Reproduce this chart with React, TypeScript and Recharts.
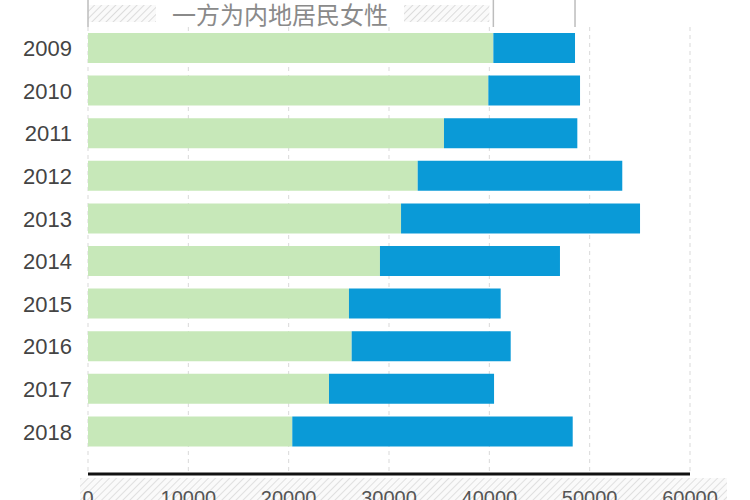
import React from 'react';
import { BarChart, Bar, XAxis, YAxis, CartesianGrid } from 'recharts';

const years = ['2009', '2010', '2011', '2012', '2013', '2014', '2015', '2016', '2017', '2018'];
const mainlandFemale = [40400, 39900, 35480, 32860, 31200, 29100, 26010, 26280, 24020, 20360];
const otherSide = [8140, 9140, 13290, 20390, 23820, 17940, 15120, 15850, 16450, 27950];
const xTicks = [0, 10000, 20000, 30000, 40000, 50000, 60000];
const topLabel = '一方为内地居民女性';

const data = years.map((y, i) => ({ year: y, mainlandFemale: mainlandFemale[i], otherSide: otherSide[i] }));

const W = 750;
const H = 500;
const LEFT = 88;
const RIGHT = 60;
const TOP = 27;
const AXIS_H = 26;
const X_MAX = 60000;
const sx = (v: number) => LEFT + (v / X_MAX) * (W - LEFT - RIGHT);

const GREEN = '#c7e8b9';
const BLUE = '#0a9ad7';
const FONT = '"Liberation Sans", Arial, sans-serif';

export default function App() {
  const g0 = sx(0);
  const g1 = sx(mainlandFemale[0]);
  const g2 = sx(mainlandFemale[0] + otherSide[0]);
  const textX = 280;
  return (
    <div style={{ position: 'absolute', left: 0, top: 0, width: W, height: H, background: '#fff', overflow: 'hidden' }}>
      <svg width={W} height={H} style={{ position: 'absolute', left: 0, top: 0 }}>
        <defs>
          <pattern id="hatch" width="5" height="5" patternUnits="userSpaceOnUse" patternTransform="rotate(45)">
            <rect width="5" height="5" fill="#fafafa" />
            <line x1="0" y1="0" x2="0" y2="5" stroke="#e0e0e0" strokeWidth="2" />
          </pattern>
        </defs>
        <rect x={80} y={478} width={647} height={22} fill="url(#hatch)" />
      </svg>
      <div style={{ position: 'absolute', left: 0, top: 0 }}>
        <BarChart
          width={W}
          height={H}
          data={data}
          layout="vertical"
          margin={{ top: TOP, right: RIGHT, bottom: 0, left: 0 }}
          barSize={30}
        >
          <CartesianGrid horizontal={false} vertical={true} stroke="#d9d9d9" strokeDasharray="4 4" />
          <XAxis
            type="number"
            domain={[0, X_MAX]}
            ticks={xTicks}
            height={AXIS_H}
            axisLine={{ stroke: '#111', strokeWidth: 3 }}
            tickLine={false}
            tickMargin={11}
            tick={{ fill: '#555', fontSize: 20, fontFamily: FONT }}
            interval={0}
          />
          <YAxis
            type="category"
            dataKey="year"
            width={LEFT}
            axisLine={false}
            tickLine={false}
            tickMargin={10}
            padding={{ top: 0, bottom: 21 }}
            tick={{ fill: '#444', fontSize: 22, fontFamily: FONT }}
          />
          <Bar dataKey="mainlandFemale" stackId="s" fill={GREEN} isAnimationActive={false} />
          <Bar dataKey="otherSide" stackId="s" fill={BLUE} isAnimationActive={false} />
        </BarChart>
      </div>
      <svg width={W} height={TOP} style={{ position: 'absolute', left: 0, top: 0 }}>
        <defs>
          <pattern id="hatch2" width="5" height="5" patternUnits="userSpaceOnUse" patternTransform="rotate(45)">
            <rect width="5" height="5" fill="#fafafa" />
            <line x1="0" y1="0" x2="0" y2="5" stroke="#dcdcdc" strokeWidth="2" />
          </pattern>
        </defs>
        <rect x={g0} y={5} width={g1 - g0 - 4} height={17} fill="url(#hatch2)" />
        <rect x={textX - 124} y={3} width={248} height={21} fill="#fff" />
        <line x1={g0} y1={0} x2={g0} y2={27} stroke="#bdbdbd" strokeWidth={1.5} />
        <line x1={g1} y1={0} x2={g1} y2={27} stroke="#bdbdbd" strokeWidth={1.5} />
        <line x1={g2} y1={0} x2={g2} y2={27} stroke="#bdbdbd" strokeWidth={1.5} />
        <text
          x={textX}
          y={24}
          textAnchor="middle"
          fill="#8a8a8a"
          fontSize={24}
          fontFamily='"Noto Sans CJK SC", sans-serif'
        >
          {topLabel}
        </text>
      </svg>
    </div>
  );
}
